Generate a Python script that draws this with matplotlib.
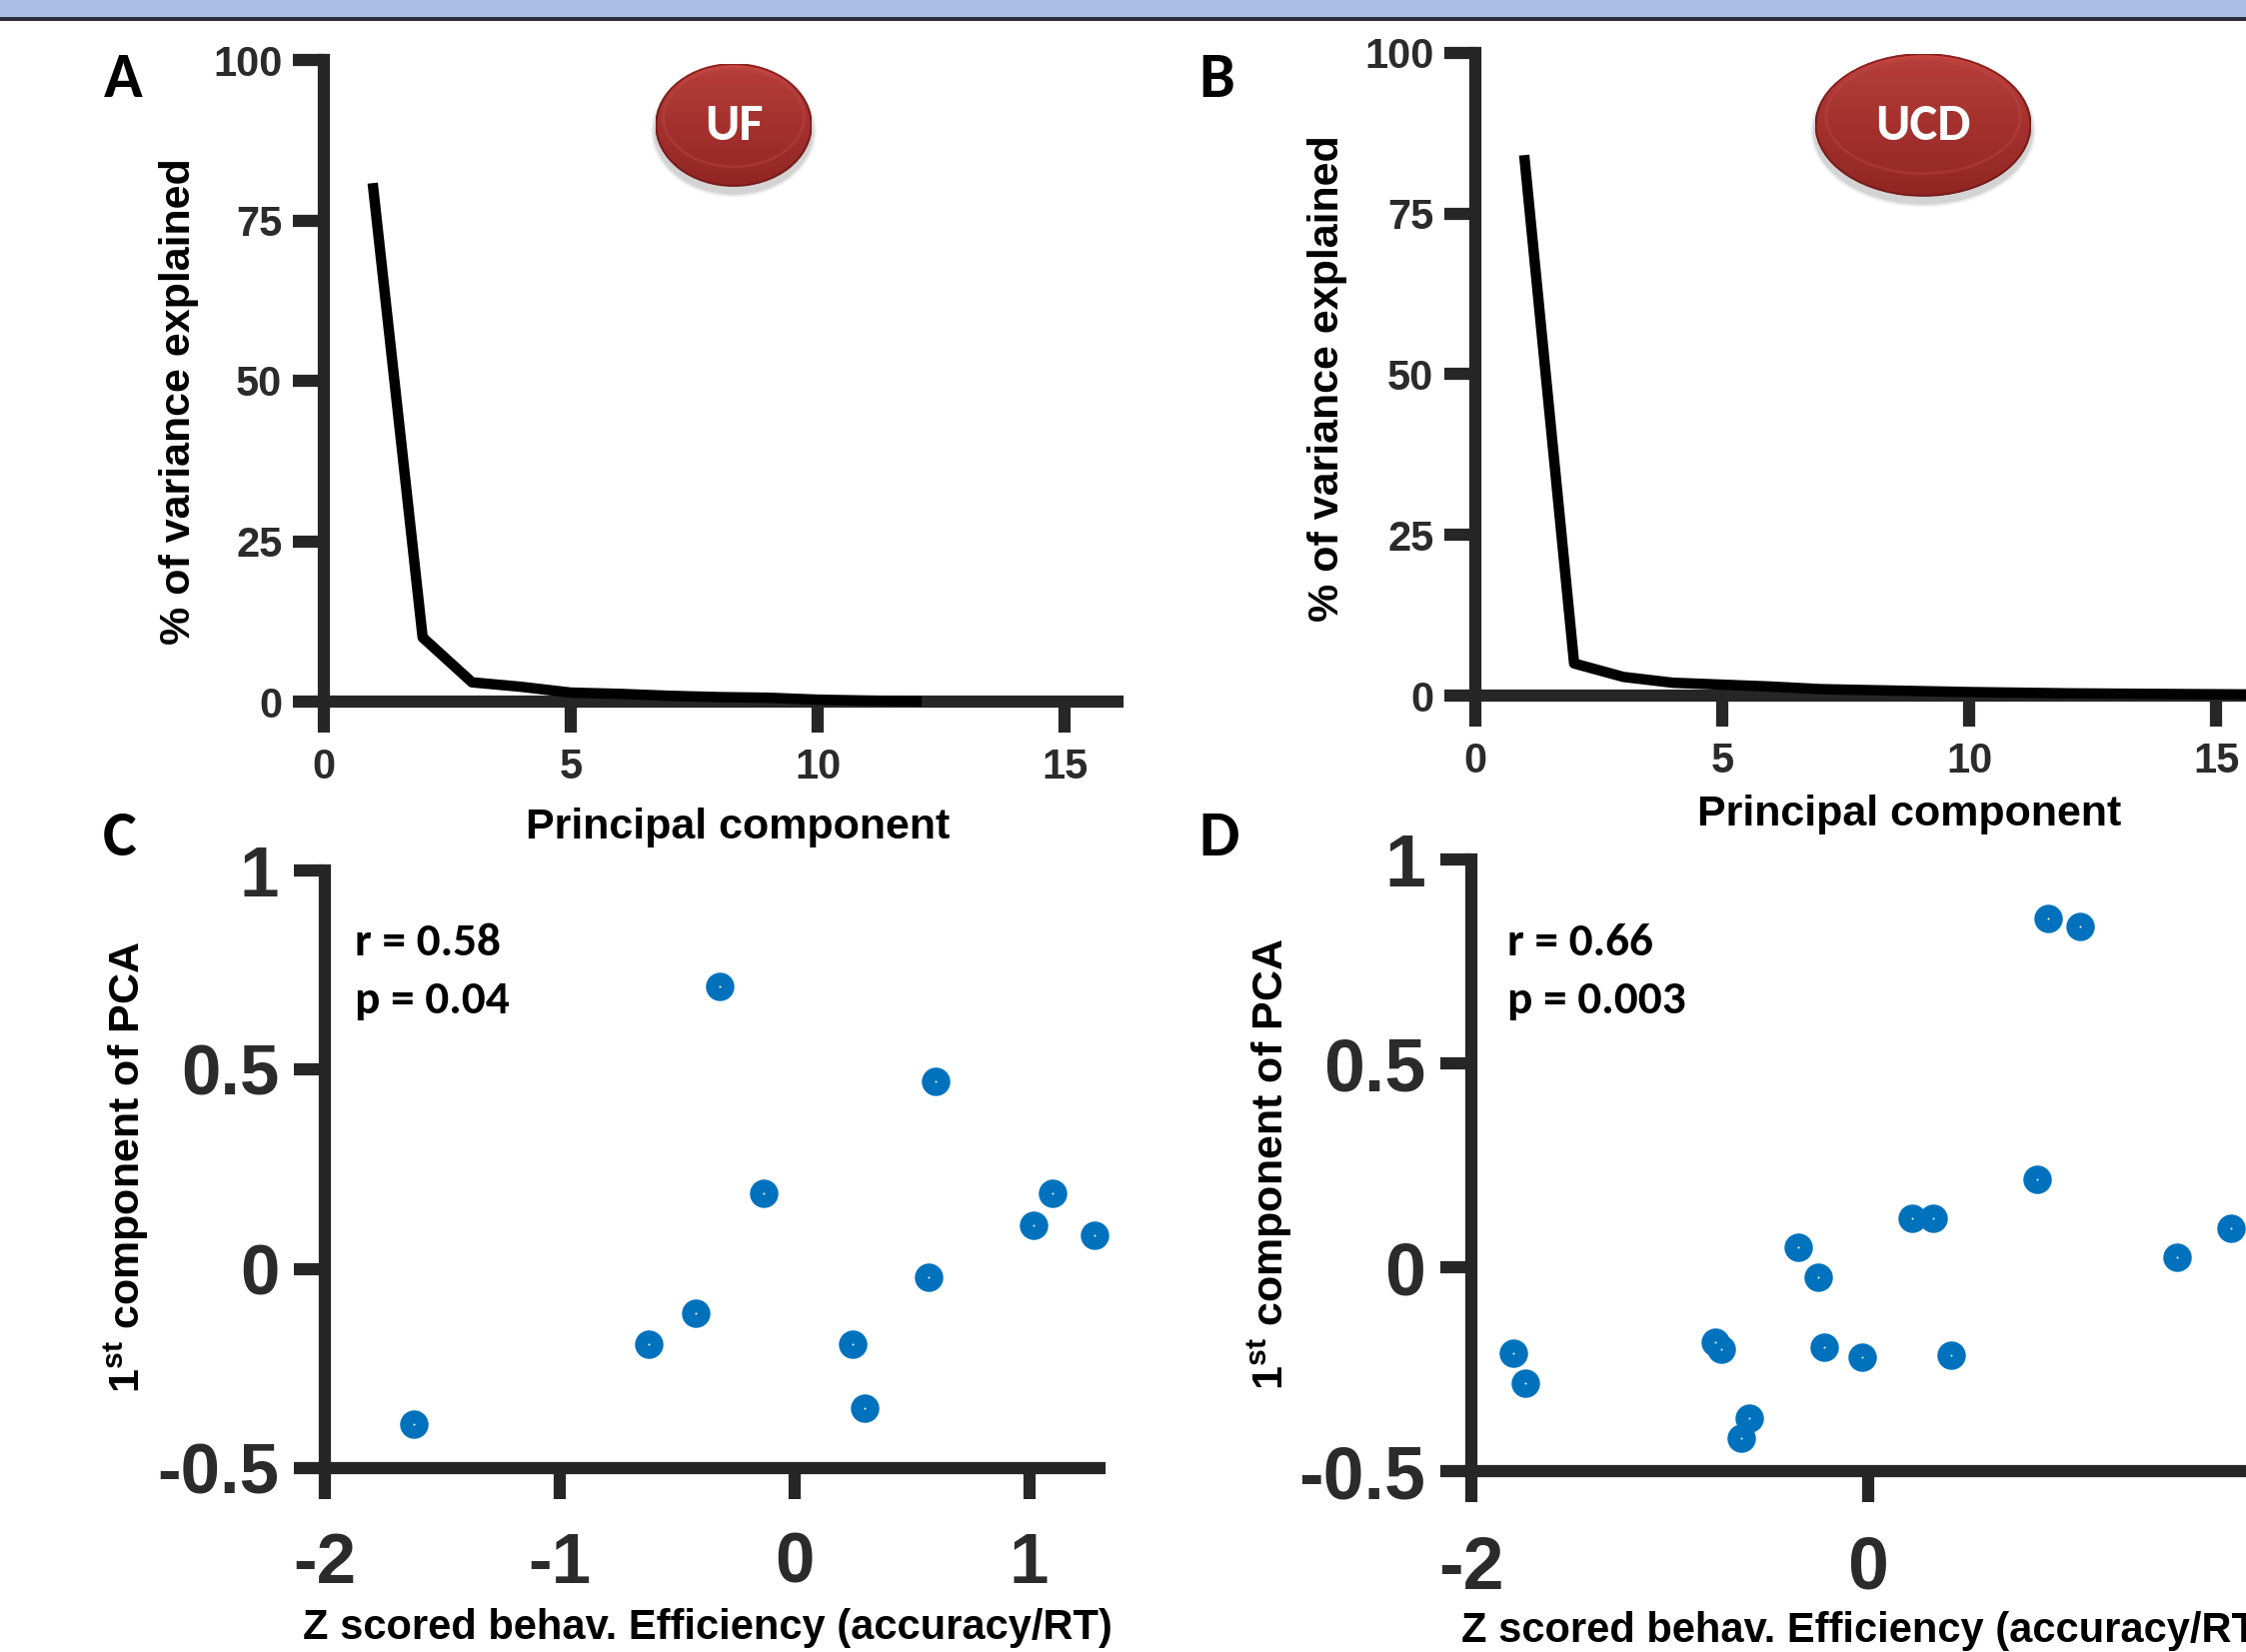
import numpy as np
import matplotlib
matplotlib.use("Agg")
import matplotlib.pyplot as plt
from matplotlib.patches import Ellipse, Rectangle
from matplotlib import font_manager as fm

# ---------------- data ----------------
pc_uf = [1, 2, 3, 4, 5, 6, 7, 8, 9, 10, 11, 12]
var_uf = [80, 10, 3, 2.3, 1.4, 1.2, 0.9, 0.7, 0.6, 0.3, 0.15, 0.05]

pc_ucd = [1, 2, 3, 4, 5, 6, 7, 8, 9, 10, 11, 12, 13, 14, 15, 16, 17, 18]
var_ucd = [83.3, 5, 2.9, 2.0, 1.7, 1.4, 1.0, 0.85, 0.7, 0.55, 0.45, 0.35,
           0.3, 0.25, 0.2, 0.15, 0.1, 0.05]

eff_uf = [-1.62, -0.62, -0.42, -0.32, -0.13, 0.25, 0.30, 0.57, 0.60, 1.02, 1.10, 1.28]
pca1_uf = [-0.39, -0.19, -0.11, 0.71, 0.19, -0.19, -0.35, -0.02, 0.47, 0.11, 0.19, 0.085]

eff_ucd = [-1.79, -1.73, -0.77, -0.74, -0.64, -0.60, -0.35, -0.25, -0.22, -0.03,
           0.22, 0.33, 0.42, 0.85, 0.91, 1.07, 1.56, 1.83]
pca1_ucd = [-0.21, -0.285, -0.185, -0.20, -0.42, -0.37, 0.05, -0.025, -0.195, -0.22,
            0.12, 0.12, -0.215, 0.215, 0.855, 0.835, 0.025, 0.095]

var_ticks = [0, 25, 50, 75, 100]
pc_ticks = [0, 5, 10, 15]
pca_ticks = [-0.5, 0, 0.5, 1]
pca_ticklabels = ["-0.5", "0", "0.5", "1"]
eff_ticks_uf = [-2, -1, 0, 1]
eff_ticklabels_uf = ["-2", "-1", "0", "1"]
eff_ticks_ucd = [-2, 0]
eff_ticklabels_ucd = ["-2", "0"]

stats_uf = ["r = 0.58", "p = 0.04"]
stats_ucd = ["r = 0.66", "p = 0.003"]
site_uf = "UF"
site_ucd = "UCD"

# ---------------- fonts ----------------
avail = {f.name for f in fm.fontManager.ttflist}
def pick(*names):
    for n in names:
        if n in avail:
            return n
    return "DejaVu Sans"

ARIAL = pick("Liberation Sans", "Arial", "DejaVu Sans")
CALIBRI = pick("Carlito", "Calibri", "Lato", "Open Sans")

plt.rcParams["font.family"] = [ARIAL, "DejaVu Sans"]
plt.rcParams["font.weight"] = "bold"
plt.rcParams["mathtext.fontset"] = "custom"
plt.rcParams["mathtext.bf"] = ARIAL + ":bold"
plt.rcParams["mathtext.rm"] = ARIAL + ":bold"

W, H = 2247, 1653
fig = plt.figure(figsize=(W / 100, H / 100), dpi=100)
fig.patch.set_facecolor("white")

def px_axes(x0, x1, ytop, ybot):
    return fig.add_axes([x0 / W, 1 - ybot / H, (x1 - x0) / W, (ybot - ytop) / H])

def fxy(x, y):
    return x / W, 1 - y / H

SPINE = "#262626"
LW = 8.8

def style(ax, fs, xpad, ypad):
    for s in ["top", "right"]:
        ax.spines[s].set_visible(False)
    for s in ["left", "bottom"]:
        ax.spines[s].set_linewidth(LW)
        ax.spines[s].set_color(SPINE)
        ax.spines[s].set_capstyle("projecting")
    ax.tick_params(length=22, width=LW, color=SPINE, labelsize=fs,
                   labelcolor="#2b2b2b", direction="out")
    ax.tick_params(axis="x", pad=xpad)
    ax.tick_params(axis="y", pad=ypad)
    ax.patch.set_alpha(0)

# top band
fig.add_artist(Rectangle((0, 1 - 17 / H), 1, 17 / H, transform=fig.transFigure,
                         facecolor="#a9bfe6", edgecolor="none"))
fig.add_artist(Rectangle((0, 1 - 21 / H), 1, 4 / H, transform=fig.transFigure,
                         facecolor="#2a2e38", edgecolor="none"))

# ---------------- panel A ----------------
axA = px_axes(324, 1118, 60, 702)
axA.plot(pc_uf, var_uf, color="black", lw=7.5, clip_on=False, zorder=3)
axA.set_xlim(0, 16.07)
axA.set_ylim(0, 100)
axA.set_xticks(pc_ticks)
axA.set_yticks(var_ticks)
style(axA, 30, 11, 8)

# ---------------- panel B ----------------
axB = px_axes(1476, 2270, 53, 696)
axB.plot(pc_ucd, var_ucd, color="black", lw=7.5, clip_on=False, zorder=3)
axB.set_xlim(0, 16.07)
axB.set_ylim(0, 100)
axB.set_xticks(pc_ticks)
axB.set_yticks(var_ticks)
style(axB, 30, 11, 8)

# ---------------- panel C ----------------
axC = px_axes(325, 1100, 871, 1469)
axC.scatter(eff_uf, pca1_uf, s=420, color="#0072BD", linewidths=0, zorder=3, clip_on=False)
axC.scatter(eff_uf, pca1_uf, s=2, color="white", linewidths=0, zorder=4, clip_on=False)
axC.set_xlim(-2, 1.3)
axC.set_ylim(-0.5, 1)
axC.set_xticks(eff_ticks_uf, eff_ticklabels_uf)
axC.set_yticks(pca_ticks, pca_ticklabels)
style(axC, 51, 24, 11)

# ---------------- panel D ----------------
axD = px_axes(1472, 2365, 860, 1472)
axD.scatter(eff_ucd, pca1_ucd, s=420, color="#0072BD", linewidths=0, zorder=3, clip_on=False)
axD.scatter(eff_ucd, pca1_ucd, s=2, color="white", linewidths=0, zorder=4, clip_on=False)
axD.set_xlim(-2, 2.5)
axD.set_ylim(-0.5, 1)
axD.set_xticks(eff_ticks_ucd, eff_ticklabels_ucd)
axD.set_yticks(pca_ticks, pca_ticklabels)
style(axD, 53, 24, 11)

# ---------------- axis labels ----------------
def xlabel(ax, text, x, y, fs, ha="center"):
    ax.set_xlabel(text, fontsize=fs, fontweight="bold", color="black", ha=ha, va="center")
    ax.xaxis.set_label_coords(*fxy(x, y), transform=fig.transFigure)

def ylabel(ax, text, x, y, fs):
    ax.set_ylabel(text, fontsize=fs, fontweight="bold", color="black", ha="center", va="center")
    ax.yaxis.set_label_coords(*fxy(x, y), transform=fig.transFigure)

xlabel(axA, "Principal component", 738, 828, 31)
xlabel(axB, "Principal component", 1910, 815, 31)
ylabel(axA, "% of variance explained", 179, 402, 31)
ylabel(axB, "% of variance explained", 1328, 379, 31)
xlabel(axC, "Z scored behav. Efficiency (accuracy/RT)", 708, 1629, 30)
xlabel(axD, "Z scored behav. Efficiency (accuracy/RT)", 1462, 1632, 30, ha="left")
ylabel(axC, r"1$^{\mathbf{st}}$ component of PCA", 126, 1168, 31)
ylabel(axD, r"1$^{\mathbf{st}}$ component of PCA", 1270, 1165, 31)

# ---------------- panel letters ----------------
for letter, (x, y) in zip("ABCD", [(123, 79), (1217, 79), (120, 838), (1220, 838)]):
    fig.text(*fxy(x, y), letter, fontsize=46, fontweight="bold", family=CALIBRI,
             ha="center", va="center", color="black")

# ---------------- stats text ----------------
for lines, x in [(stats_uf, 355), (stats_ucd, 1508)]:
    for line, y in zip(lines, [943, 1001]):
        fig.text(*fxy(x, y), line, fontsize=34, fontweight="bold", family=CALIBRI,
                 ha="left", va="center", color="black")

# ---------------- badges ----------------
def badge(cx, cy, w, h, text, fs):
    # soft shadow
    for k, a in [(10, 0.04), (7, 0.06), (4, 0.08)]:
        fig.add_artist(Ellipse(fxy(cx, cy + 6), (w + k) / W, (h + k) / H,
                               transform=fig.transFigure, facecolor="black",
                               edgecolor="none", alpha=a))
    bax = fig.add_axes([(cx - w / 2) / W, 1 - (cy + h / 2) / H, w / W, h / H])
    bax.set_axis_off()
    top = np.array([0.87, 0.30, 0.28])
    bot = np.array([0.69, 0.18, 0.17])
    t = np.linspace(0, 1, 200)[:, None]
    grad = top[None, :] * (1 - t) + bot[None, :] * t
    img = bax.imshow(grad[:, None, :].repeat(2, axis=1), extent=[0, 1, 0, 1],
                     aspect="auto", origin="upper", interpolation="bilinear")
    clip = Ellipse((0.5, 0.5), 1, 1, transform=bax.transAxes, facecolor="none")
    bax.add_patch(clip)
    img.set_clip_path(clip)
    bax.add_patch(Ellipse((0.5, 0.5), 0.995, 0.99, transform=bax.transAxes,
                          facecolor="none", edgecolor="#8f2422", lw=1.5))
    bax.add_patch(Ellipse((0.5, 0.56), 0.9, 0.8, transform=bax.transAxes,
                          facecolor="none", edgecolor="#e8605c", lw=2, alpha=0.35))
    bax.set_xlim(0, 1)
    bax.set_ylim(0, 1)
    fig.text(*fxy(cx, cy + 1), text, fontsize=fs, fontweight="bold", family=CALIBRI,
             color="white", ha="center", va="center")

badge(734, 125, 156, 123, site_uf, 38)
badge(1924, 125, 216, 143, site_ucd, 38)

fig.savefig("out.png", dpi=100)
